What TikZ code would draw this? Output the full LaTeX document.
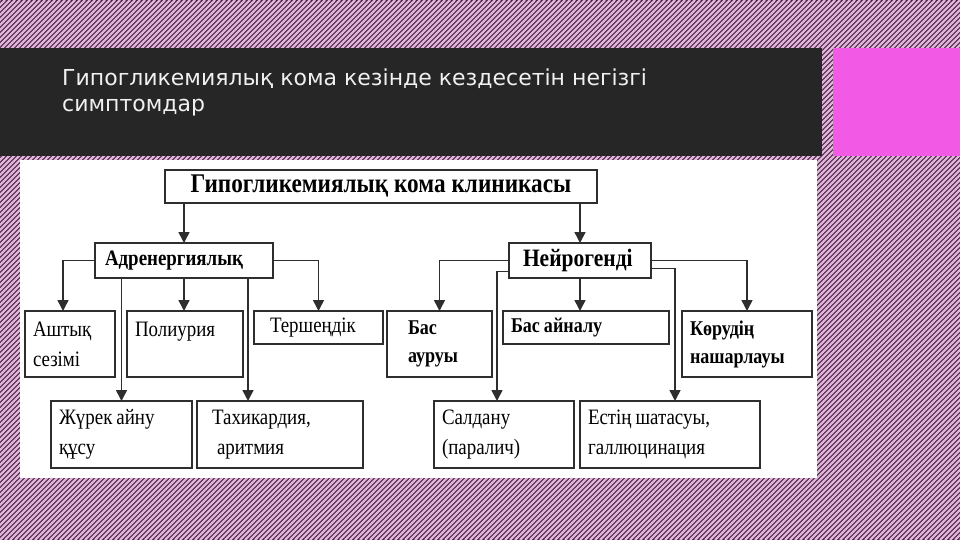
\documentclass[tikz,border=0pt]{standalone}
\usepackage{fontspec}
\setmainfont{Liberation Serif}
\newfontfamily\headfont{DejaVu Sans}
\newfontfamily\cellfont[FakeStretch=0.86]{Liberation Serif}
\newcommand\cellspace[1]{\spaceskip=#1\relax}
\usetikzlibrary{arrows.meta,positioning}
\definecolor{HeadBar}{HTML}{262626}
\definecolor{Pink}{HTML}{F25AE6}
\definecolor{StripeDark}{HTML}{3C2438}
\definecolor{StripeLight}{HTML}{E2B2DC}
\definecolor{Frame}{HTML}{2E2E2E}

\begin{document}
\begin{tikzpicture}[x=1pt, y=-1pt,
    box/.style={draw=Frame, line width=2pt, anchor=north west, outer sep=0pt,
                inner xsep=8pt, inner ysep=0pt, align=left,
                font=\cellfont\fontsize{22}{30}\selectfont},
    bbox/.style={box, font=\cellfont\bfseries\fontsize{21}{28}\selectfont},
    head/.style={box, align=left, inner xsep=10pt, font=\cellfont\bfseries\fontsize{22}{26}\selectfont},
    arr/.style={line width=1.6pt, draw=Frame, -{Triangle[width=11pt,length=11pt]}}
  ]
    \useasboundingbox (0,0) rectangle (960,540);
    % striped backdrop
    \begin{scope}
      \clip (0,0) rectangle (960,540);
      \fill[StripeDark] (0,0) rectangle (960,540);
      \foreach \s in {0,5,...,1500}
        \draw[StripeLight, line width=2.3pt] (\s-540,540) -- (\s,0);
    \end{scope}
    \fill[HeadBar] (0,48) rectangle (822,156);
    \fill[Pink] (833,48) rectangle (960,156);
    \fill[white] (20,160) rectangle (817,478);
    \node[anchor=north west, inner sep=0pt, align=left, text=white!94!black,
          font=\headfont\fontsize{22}{26}\selectfont] (slide) at (62,69)
      {Гипогликемиялық кома кезінде кездесетін негізгі\\симптомдар};

    % upper levels
    \node[head, align=center, text width=412pt, minimum height=33pt, font=\cellfont\bfseries\fontsize{27}{30}\selectfont] (title) at (165,170) {\cellspace{6pt}Гипогликемиялық кома клиникасы};
    \node[head, text width=158pt, minimum height=35pt] (adr) at (95,243) {Адренергиялық};
    \node[head, text width=122pt, minimum height=35pt, font=\cellfont\bfseries\fontsize{25}{28}\selectfont] (neu) at (509,243) {\hspace*{4pt}Нейрогенді};

    % adrenergic symptoms
    \node[box, text width=74pt,  minimum height=66pt] (ash) at (25,311)  {Аштық\\сезімі};
    \node[box, text width=100pt, minimum height=66pt] (pol) at (127,311) {Полиурия\\\mbox{}};
    \node[box, text width=113pt, minimum height=33pt] (ter) at (254,311) {\hspace*{8pt}Тершеңдік};
    \node[box, text width=125pt, minimum height=67pt] (zhu) at (51,401)  {\cellspace{4pt}Жүрек айну\\құсу};
    \node[box, text width=150pt, minimum height=67pt] (tax) at (197,401) {\hspace*{7pt}Тахикардия,\\\hspace*{12pt}аритмия};

    % neurogenic symptoms
    \node[bbox, text width=89pt,  minimum height=66pt] (bas) at (387,311) {\hspace*{13pt}Бас\\\hspace*{13pt}ауруы};
    \node[bbox, text width=150pt, minimum height=33pt] (bai) at (503,311) {\cellspace{4pt}Бас айналу};
    \node[bbox, text width=114pt, minimum height=66pt] (kor) at (682,311) {Көрудің\\нашарлауы};
    \node[box, text width=124pt, minimum height=67pt] (sal) at (434,401) {Салдану\\(паралич)};
    \node[box, text width=164pt, minimum height=67pt] (est) at (580,401) {\cellspace{4pt}Естің шатасуы,\\галлюцинация};

    % connectors
    \draw[arr] (title.south -| adr.north) -- (adr.north);
    \draw[arr] (title.south -| neu.north) -- (neu.north);

    \draw[arr] (adr.west) -| ([xshift=-7pt]ash.north);
    \draw[arr] (adr.south) -- (adr.south |- pol.north);
    \draw[arr] (adr.east) -| (ter.north);
    \draw[arr] (zhu.north |- adr.south) -- (zhu.north);
    \draw[arr] ([xshift=-32pt]tax.north |- adr.south) -- ([xshift=-32pt]tax.north);

    \draw[arr] (neu.west) -| (bas.north);
    \draw[arr] ([yshift=-11pt]neu.west) -| ([xshift=-7pt]sal.north);
    \draw[arr] (neu.south) -- (neu.south |- bai.north);
    \draw[arr] (neu.east) -| (kor.north);
    \draw[arr] ([yshift=-8pt]neu.east) -| ([xshift=5pt]est.north);
  \end{tikzpicture}
\end{document}
